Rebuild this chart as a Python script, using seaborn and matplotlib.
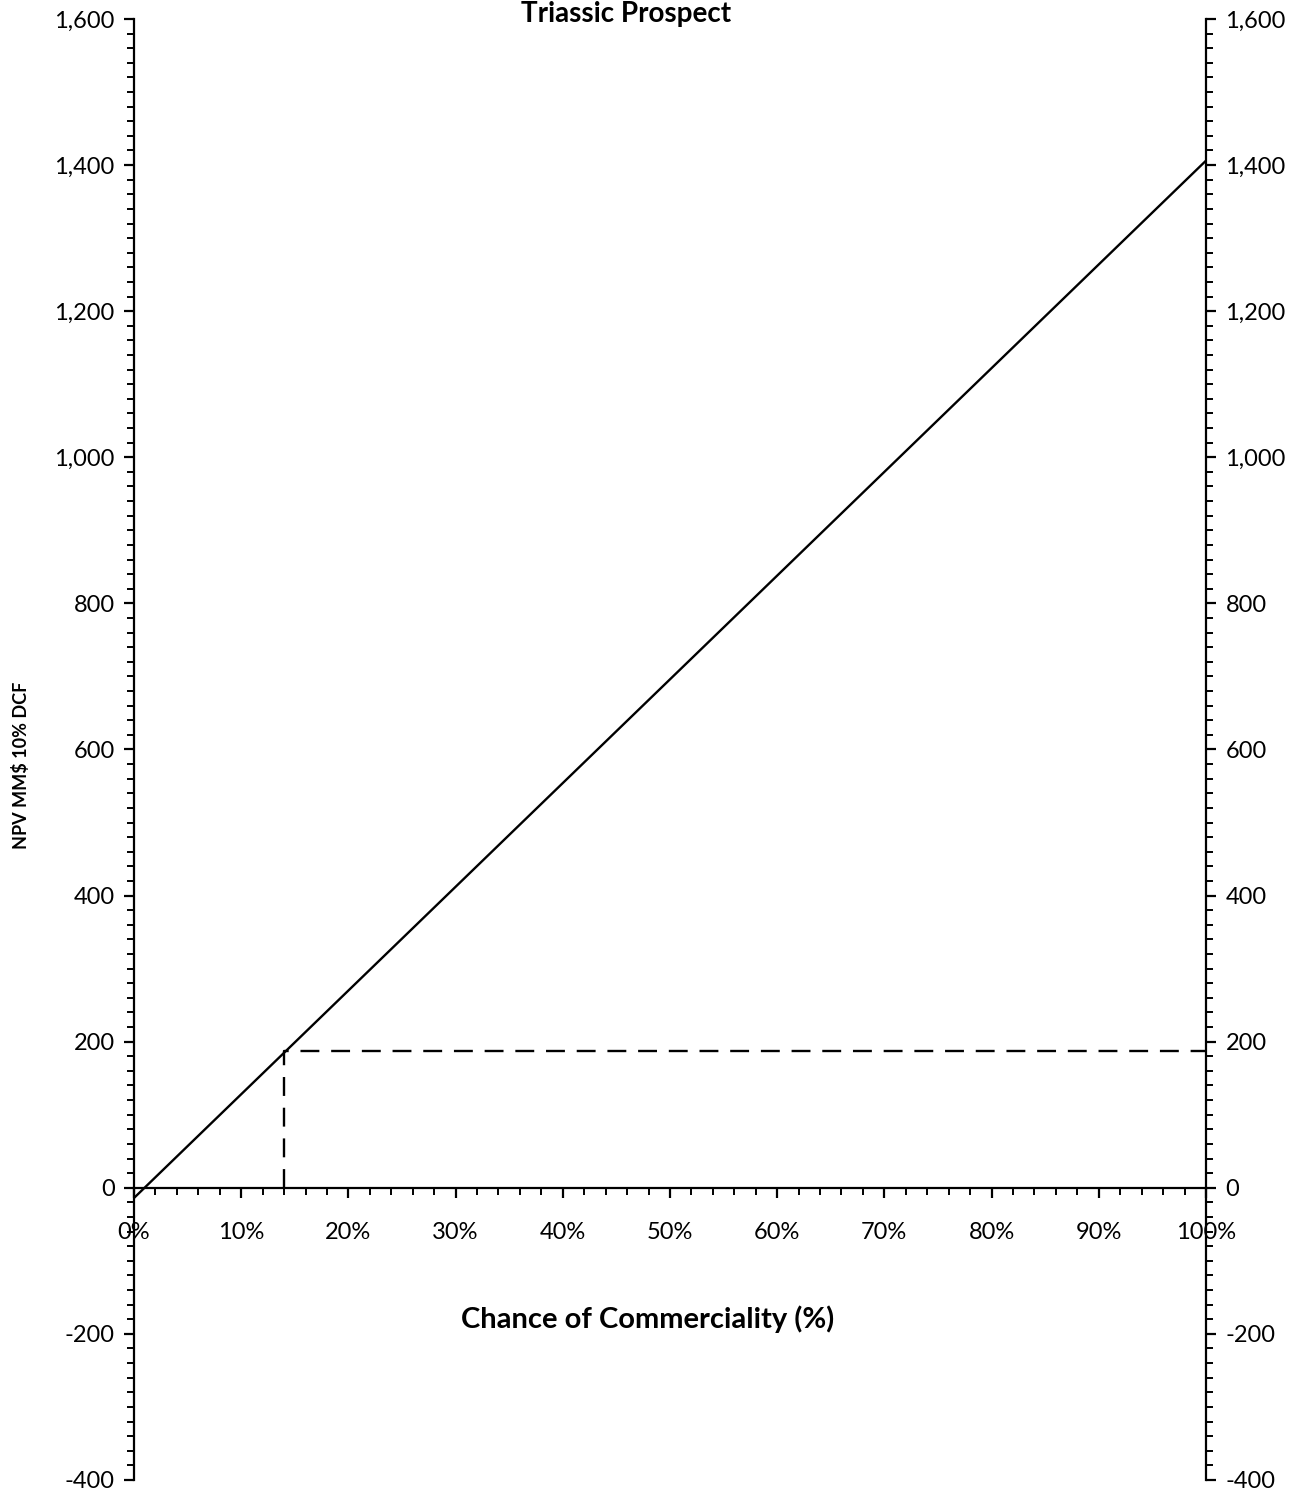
import matplotlib
matplotlib.use("Agg")
import matplotlib.pyplot as plt
import seaborn as sns
import pandas as pd
from matplotlib.ticker import MultipleLocator, FuncFormatter

# Data
chance = [0.0, 1.0]
npv = [-14, 1406]
cut_x = [0.14, 0.14, 1.0]
cut_y = [0, 187, 187]
y_ticks = [-400, -200, 0, 200, 400, 600, 800, 1000, 1200, 1400, 1600]
x_ticks = [0.0, 0.1, 0.2, 0.3, 0.4, 0.5, 0.6, 0.7, 0.8, 0.9, 1.0]

sns.set_theme(style="white")
plt.rcParams['font.family'] = ['Lato', 'DejaVu Sans']
plt.rcParams['text.color'] = 'black'
plt.rcParams['xtick.color'] = 'black'
plt.rcParams['ytick.color'] = 'black'

fig = plt.figure(figsize=(13.06, 14.94), dpi=100)
ax = fig.add_axes([0.1026, 0.0094, 0.8208, 0.9779])

df = pd.DataFrame({"x": chance, "y": npv})
sns.lineplot(data=df, x="x", y="y", ax=ax, color="black", linewidth=1.7)
dfc = pd.DataFrame({"x": cut_x, "y": cut_y})
sns.lineplot(data=dfc, x="x", y="y", ax=ax, color="black", linewidth=1.7,
             sort=False, estimator=None, linestyle=(0, (8, 5)))

ax.set_xlim(0, 1)
ax.set_ylim(-400, 1600)
ax.set_yticks(y_ticks)
ax.set_xticks(x_ticks)
ax.yaxis.set_minor_locator(MultipleLocator(20))
ax.xaxis.set_minor_locator(MultipleLocator(0.02))
ax.yaxis.set_major_formatter(FuncFormatter(lambda v, p: f"{int(v):,}"))
ax.xaxis.set_major_formatter(FuncFormatter(lambda v, p: f"{int(round(v*100))}%"))

for s in ["left", "right", "bottom"]:
    ax.spines[s].set_visible(True)
    ax.spines[s].set_color("black")
    ax.spines[s].set_linewidth(1.6)
ax.spines["top"].set_visible(False)
ax.spines["bottom"].set_position(("data", 0))

ax.tick_params(axis="y", which="both", left=True, right=True, labelleft=True,
               labelright=True, direction="out", colors="black", labelsize=17)
ax.tick_params(axis="y", which="major", length=7, width=1.6, pad=7)
ax.tick_params(axis="y", which="minor", length=5, width=1.4)
ax.tick_params(axis="x", which="both", bottom=True, direction="out", colors="black",
               labelsize=17)
ax.tick_params(axis="x", which="major", length=7, width=1.6, pad=18)
ax.tick_params(axis="x", which="minor", length=5, width=1.4)

ax.set_xlabel("")
ax.set_ylabel("")
fig.text(0.496, 0.117, "Chance of Commerciality (%)", ha="center", va="center",
         fontsize=21, fontweight="bold")
fig.text(0.016, 0.488, "NPV MM$ 10% DCF", ha="center", va="center",
         rotation=90, fontsize=13, fontweight="bold")
fig.text(0.479, 0.9995, "Triassic Prospect", ha="center", va="top",
         fontsize=20, fontweight="bold")

fig.savefig("out.png", dpi=100, facecolor="white")
